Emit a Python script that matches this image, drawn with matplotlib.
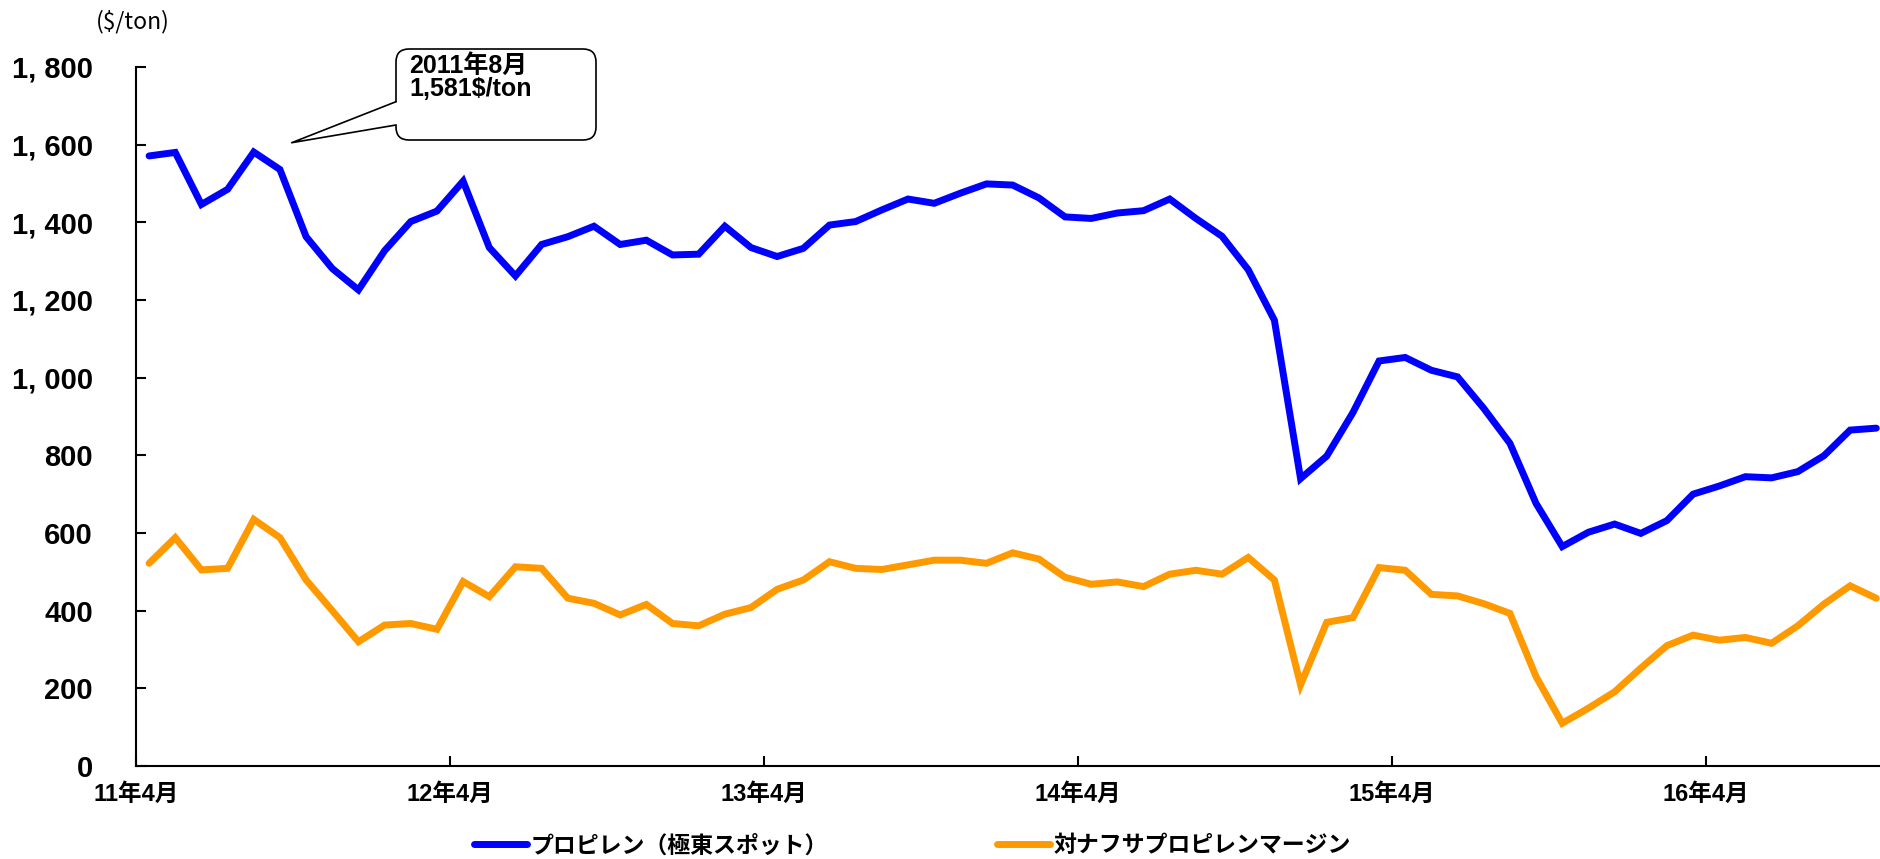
import matplotlib
matplotlib.use("Agg")
import matplotlib.pyplot as plt
from matplotlib.lines import Line2D
from matplotlib.patches import FancyBboxPatch, Polygon

latin = "Liberation Sans"
jp = "Noto Sans CJK JP"

# Data: monthly, 2011/04 - 2016/10
months = list(range(67))
propylene = [1571, 1580, 1446, 1485, 1581, 1536, 1363, 1281, 1226, 1327,
             1402, 1429, 1506, 1335, 1262, 1343, 1363, 1390, 1343, 1354,
             1316, 1318, 1390, 1335, 1312, 1333, 1393, 1402, 1432, 1460,
             1449, 1475, 1499, 1496, 1463, 1414, 1410, 1424, 1430, 1460,
             1410, 1364, 1278, 1148, 740, 798, 910, 1043, 1052, 1019,
             1002, 921, 831, 676, 565, 602, 623, 599, 632, 700,
             721, 745, 742, 758, 799, 865, 870]
margin = [522, 588, 505, 509, 635, 588, 479, 400, 320, 363,
          367, 352, 475, 436, 513, 509, 432, 419, 389, 416,
          367, 361, 391, 408, 455, 479, 526, 509, 506, 518,
          530, 530, 522, 549, 533, 486, 468, 474, 462, 494,
          504, 494, 537, 479, 209, 370, 382, 511, 504, 442,
          438, 418, 393, 230, 110, 149, 191, 252, 310, 337,
          324, 331, 316, 361, 417, 464, 432]
tick_pos = [-0.5, 11.5, 23.5, 35.5, 47.5, 59.5]
tick_labels = ["11年4月", "12年4月", "13年4月", "14年4月", "15年4月", "16年4月"]
y_ticks = [0, 200, 400, 600, 800, 1000, 1200, 1400, 1600, 1800]
y_labels = ["0", "200", "400", "600", "800", "1, 000", "1, 200", "1, 400", "1, 600", "1, 800"]
series_names = ["プロピレン（極東スポット）", "対ナフサプロピレンマージン"]
colors = ["#0000FF", "#FF9900"]

fig = plt.figure(figsize=(18.81, 8.59), dpi=100)
ax = fig.add_axes([136 / 1881, 93 / 859, 1745 / 1881, 699 / 859])

ax.plot(months, propylene, color=colors[0], lw=5, solid_joinstyle="miter", solid_capstyle="round")
ax.plot(months, margin, color=colors[1], lw=5, solid_joinstyle="miter", solid_capstyle="round")

ax.set_xlim(-0.5, 66.18)
ax.set_ylim(0, 1800)
ax.set_xticks(tick_pos)
ax.set_xticklabels(tick_labels, family=[latin, jp], fontweight="bold", fontsize=17)
ax.set_yticks(y_ticks)
ax.set_yticklabels(y_labels, family=[latin, jp], fontweight="bold", fontsize=21)
ax.tick_params(axis="both", direction="in", length=7, width=1.5, colors="black")
ax.tick_params(axis="y", pad=31)
ax.tick_params(axis="x", pad=12)
for s in ["top", "right"]:
    ax.spines[s].set_visible(False)
for s in ["left", "bottom"]:
    ax.spines[s].set_linewidth(1.5)

# unit label
fig.text(96 / 1881, 1 - 22 / 859, "($/ton)", family=jp, fontsize=16.5, va="center", ha="left")

# callout box (inches, from pixel layout)
tr = fig.dpi_scale_trans
box = FancyBboxPatch((3.96, 7.19), 2.0, 0.91, boxstyle="round,pad=0,rounding_size=0.13",
                     fc="white", ec="black", lw=1.2, transform=tr, zorder=5)
fig.patches.append(box)
wedge = Polygon([(3.975, 7.573), (2.917, 7.163), (3.975, 7.34)], closed=True,
                fc="white", ec="none", transform=tr, zorder=6)
fig.patches.append(wedge)
fig.lines.append(Line2D([3.96, 2.917, 3.96], [7.573, 7.163, 7.34], color="black", lw=1.2,
                        transform=tr, zorder=7))
fig.text(4.09, 7.58, "2011年8月\n1,581$/ton", family=[latin, jp],
         fontweight="bold", fontsize=18, transform=tr, va="bottom", ha="left",
         linespacing=0.95, zorder=8)

# legend
handles = [Line2D([], [], color=c, lw=5, solid_capstyle="round") for c in colors]
fig.legend(handles, series_names, loc="center left", bbox_to_anchor=(474 / 1881, 13 / 859),
           ncol=2, frameon=False, prop={"family": jp, "weight": "bold", "size": 16.5},
           handlelength=2.3, handletextpad=0.15, columnspacing=7.4, borderpad=0,
           borderaxespad=0)

fig.savefig("out.png", dpi=100, facecolor="white")
